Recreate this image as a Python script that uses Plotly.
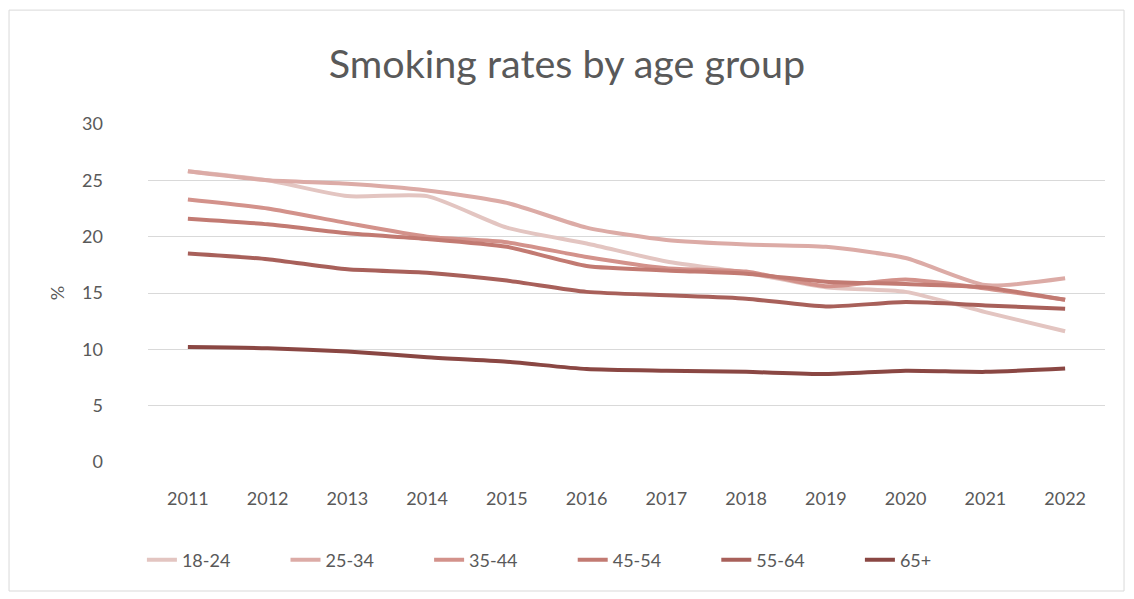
import plotly.graph_objects as go

# Survey years and smoking prevalence (%) by age group
years = ["2011", "2012", "2013", "2014", "2015", "2016",
         "2017", "2018", "2019", "2020", "2021", "2022"]

age_18_24 = [25.8, 25.0, 23.6, 23.6, 20.8, 19.4, 17.8, 16.8, 15.5, 15.1, 13.3, 11.6]
age_25_34 = [25.8, 25.0, 24.7, 24.1, 23.0, 20.8, 19.7, 19.3, 19.1, 18.1, 15.7, 16.3]
age_35_44 = [23.3, 22.5, 21.2, 20.0, 19.5, 18.2, 17.2, 16.9, 15.6, 16.2, 15.4, 14.4]
age_45_54 = [21.6, 21.1, 20.3, 19.8, 19.1, 17.4, 17.0, 16.7, 16.0, 15.8, 15.5, 14.4]
age_55_64 = [18.5, 18.0, 17.1, 16.8, 16.1, 15.1, 14.8, 14.5, 13.8, 14.2, 13.9, 13.6]
age_65_plus = [10.2, 10.1, 9.8, 9.3, 8.9, 8.25, 8.1, 8.0, 7.8, 8.1, 8.0, 8.3]

series_names = ["18-24", "25-34", "35-44", "45-54", "55-64", "65+"]
series_values = [age_18_24, age_25_34, age_35_44, age_45_54, age_55_64, age_65_plus]
series_colors = ["#e3c5c1", "#dcaba6", "#d3928b", "#c27a72", "#a8605a", "#8a4743"]

y_ticks = [0, 5, 10, 15, 20, 25, 30]

FONT = "Lato, Open Sans, sans-serif"
GREY = "#595959"

fig = go.Figure()
for name, vals, col in zip(series_names, series_values, series_colors):
    fig.add_trace(go.Scatter(
        x=years, y=vals, name=name, mode="lines",
        line=dict(color=col, width=4, shape="spline", smoothing=0.6),
    ))

# Light frame around the whole chart
fig.add_shape(type="rect", xref="paper", yref="paper",
              x0=-0.1452, x1=1.0199, y0=-0.3817, y1=1.337,
              line=dict(color="#d9d9d9", width=1), fillcolor="rgba(0,0,0,0)",
              layer="below")

fig.update_layout(
    width=1134, height=599,
    margin=dict(l=148, r=29, t=124, b=137),
    paper_bgcolor="white", plot_bgcolor="white",
    font=dict(family=FONT, color=GREY, size=18),
    title=dict(text="Smoking rates by age group", x=0.5, xanchor="center",
               y=0.893, yanchor="middle",
               font=dict(size=39.5, color=GREY, family=FONT)),
    xaxis=dict(type="category", range=[-0.5, 11.5], showgrid=False,
               showline=False, ticks="", tickfont=dict(size=18, color=GREY),
               ticklabelstandoff=24),
    yaxis=dict(range=[0, 30], tickvals=y_ticks, showgrid=True,
               gridcolor="#d9d9d9", gridwidth=1, zeroline=False, showline=False,
               tickfont=dict(size=18, color=GREY), ticklabelstandoff=44,
               title=dict(text="%", font=dict(size=18, color=GREY), standoff=12)),
    legend=dict(orientation="h", x=0.444, xanchor="center", y=-0.29,
                yanchor="middle", font=dict(size=18, color=GREY),
                entrywidth=98.6, itemwidth=30),
    showlegend=True,
)

fig.write_html("out.html")
